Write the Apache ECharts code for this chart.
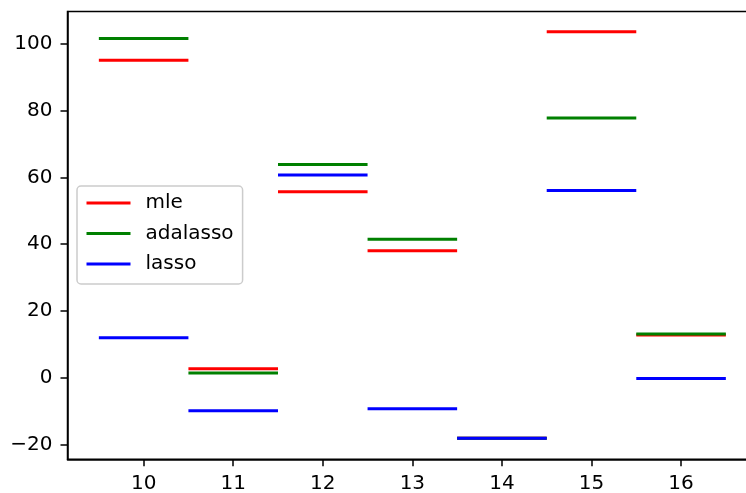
<!DOCTYPE html>
<html><head><meta charset="utf-8">
<script src="https://cdn.jsdelivr.net/npm/echarts@6/dist/echarts.min.js"></script>
<style>html,body{margin:0;padding:0;background:#fff}#c{width:746px;height:493px}</style>
</head><body><div id="c"></div>
<script>
var categories = [10, 11, 12, 13, 14, 15, 16];
var mle      = [95.1, 2.7, 55.7, 38.0, -18.1, 103.6, 12.8];
var adalasso = [101.6, 1.4, 63.9, 41.5, -18.1, 77.8, 13.1];
var lasso    = [12.0, -9.9, 60.7, -9.3, -18.1, 56.1, -0.2];
var xTicks = [10, 11, 12, 13, 14, 15, 16];
var yTicks = [-20, 0, 20, 40, 60, 80, 100];

function segs(vals) {
  var d = [];
  for (var i = 0; i < categories.length; i++) {
    d.push([categories[i] - 0.5, vals[i]]);
    d.push([categories[i] + 0.5, vals[i]]);
    d.push([categories[i] + 0.5, '-']);
  }
  return d;
}
function ser(name, vals, color) {
  return {name: name, type: 'line', data: segs(vals), symbol: 'none', showSymbol: false,
    connectNulls: false, lineStyle: {color: color, width: 3}, itemStyle: {color: color},
    silent: true};
}
var font = 'DejaVu Sans';
var chart = echarts.init(document.getElementById('c'));
chart.setOption({
  animation: false,
  backgroundColor: '#fff',
  grid: {left: 67.5, top: 11.5, width: 689.7, height: 447.8, show: true, borderColor: '#000', borderWidth: 1.5,
    backgroundColor: 'transparent', containLabel: false, outerBoundsMode: 'none'},
  xAxis: {type: 'value', min: 9.15, max: 16.85,
    axisLine: {show: true, onZero: false, lineStyle: {color: '#000', width: 1.5}},
    axisTick: {show: true, length: 7, lineStyle: {color: '#000', width: 1.5}, customValues: xTicks},
    axisLabel: {color: '#000', fontSize: 20, fontFamily: font, margin: 14, customValues: xTicks},
    splitLine: {show: false}},
  yAxis: {type: 'value', min: -24.44, max: 109.7,
    axisLine: {show: true, onZero: false, lineStyle: {color: '#000', width: 1.5}},
    axisTick: {show: true, length: 7, lineStyle: {color: '#000', width: 1.5}, customValues: yTicks},
    axisLabel: {color: '#000', fontSize: 20, fontFamily: font, margin: 15, customValues: yTicks,
      formatter: function (v) { return String(v).replace('-', '\u2212'); }},
    splitLine: {show: false}},
  legend: {orient: 'vertical', left: 77, top: 186, data: ['mle', 'adalasso', 'lasso'],
    itemWidth: 44, itemHeight: 20, itemGap: 10.5,
    padding: [7, 9, 10, 8],
    itemStyle: {opacity: 0},
    lineStyle: {width: 3},
    backgroundColor: 'rgba(255,255,255,0.8)', borderColor: '#cccccc', borderWidth: 1.5, borderRadius: 4,
    textStyle: {color: '#000', fontSize: 20, fontFamily: font, lineHeight: 20, padding: [0, 0, 0, 10]}},
  series: [ser('mle', mle, '#ff0000'), ser('adalasso', adalasso, '#008000'), ser('lasso', lasso, '#0000ff')]
});
</script></body></html>
